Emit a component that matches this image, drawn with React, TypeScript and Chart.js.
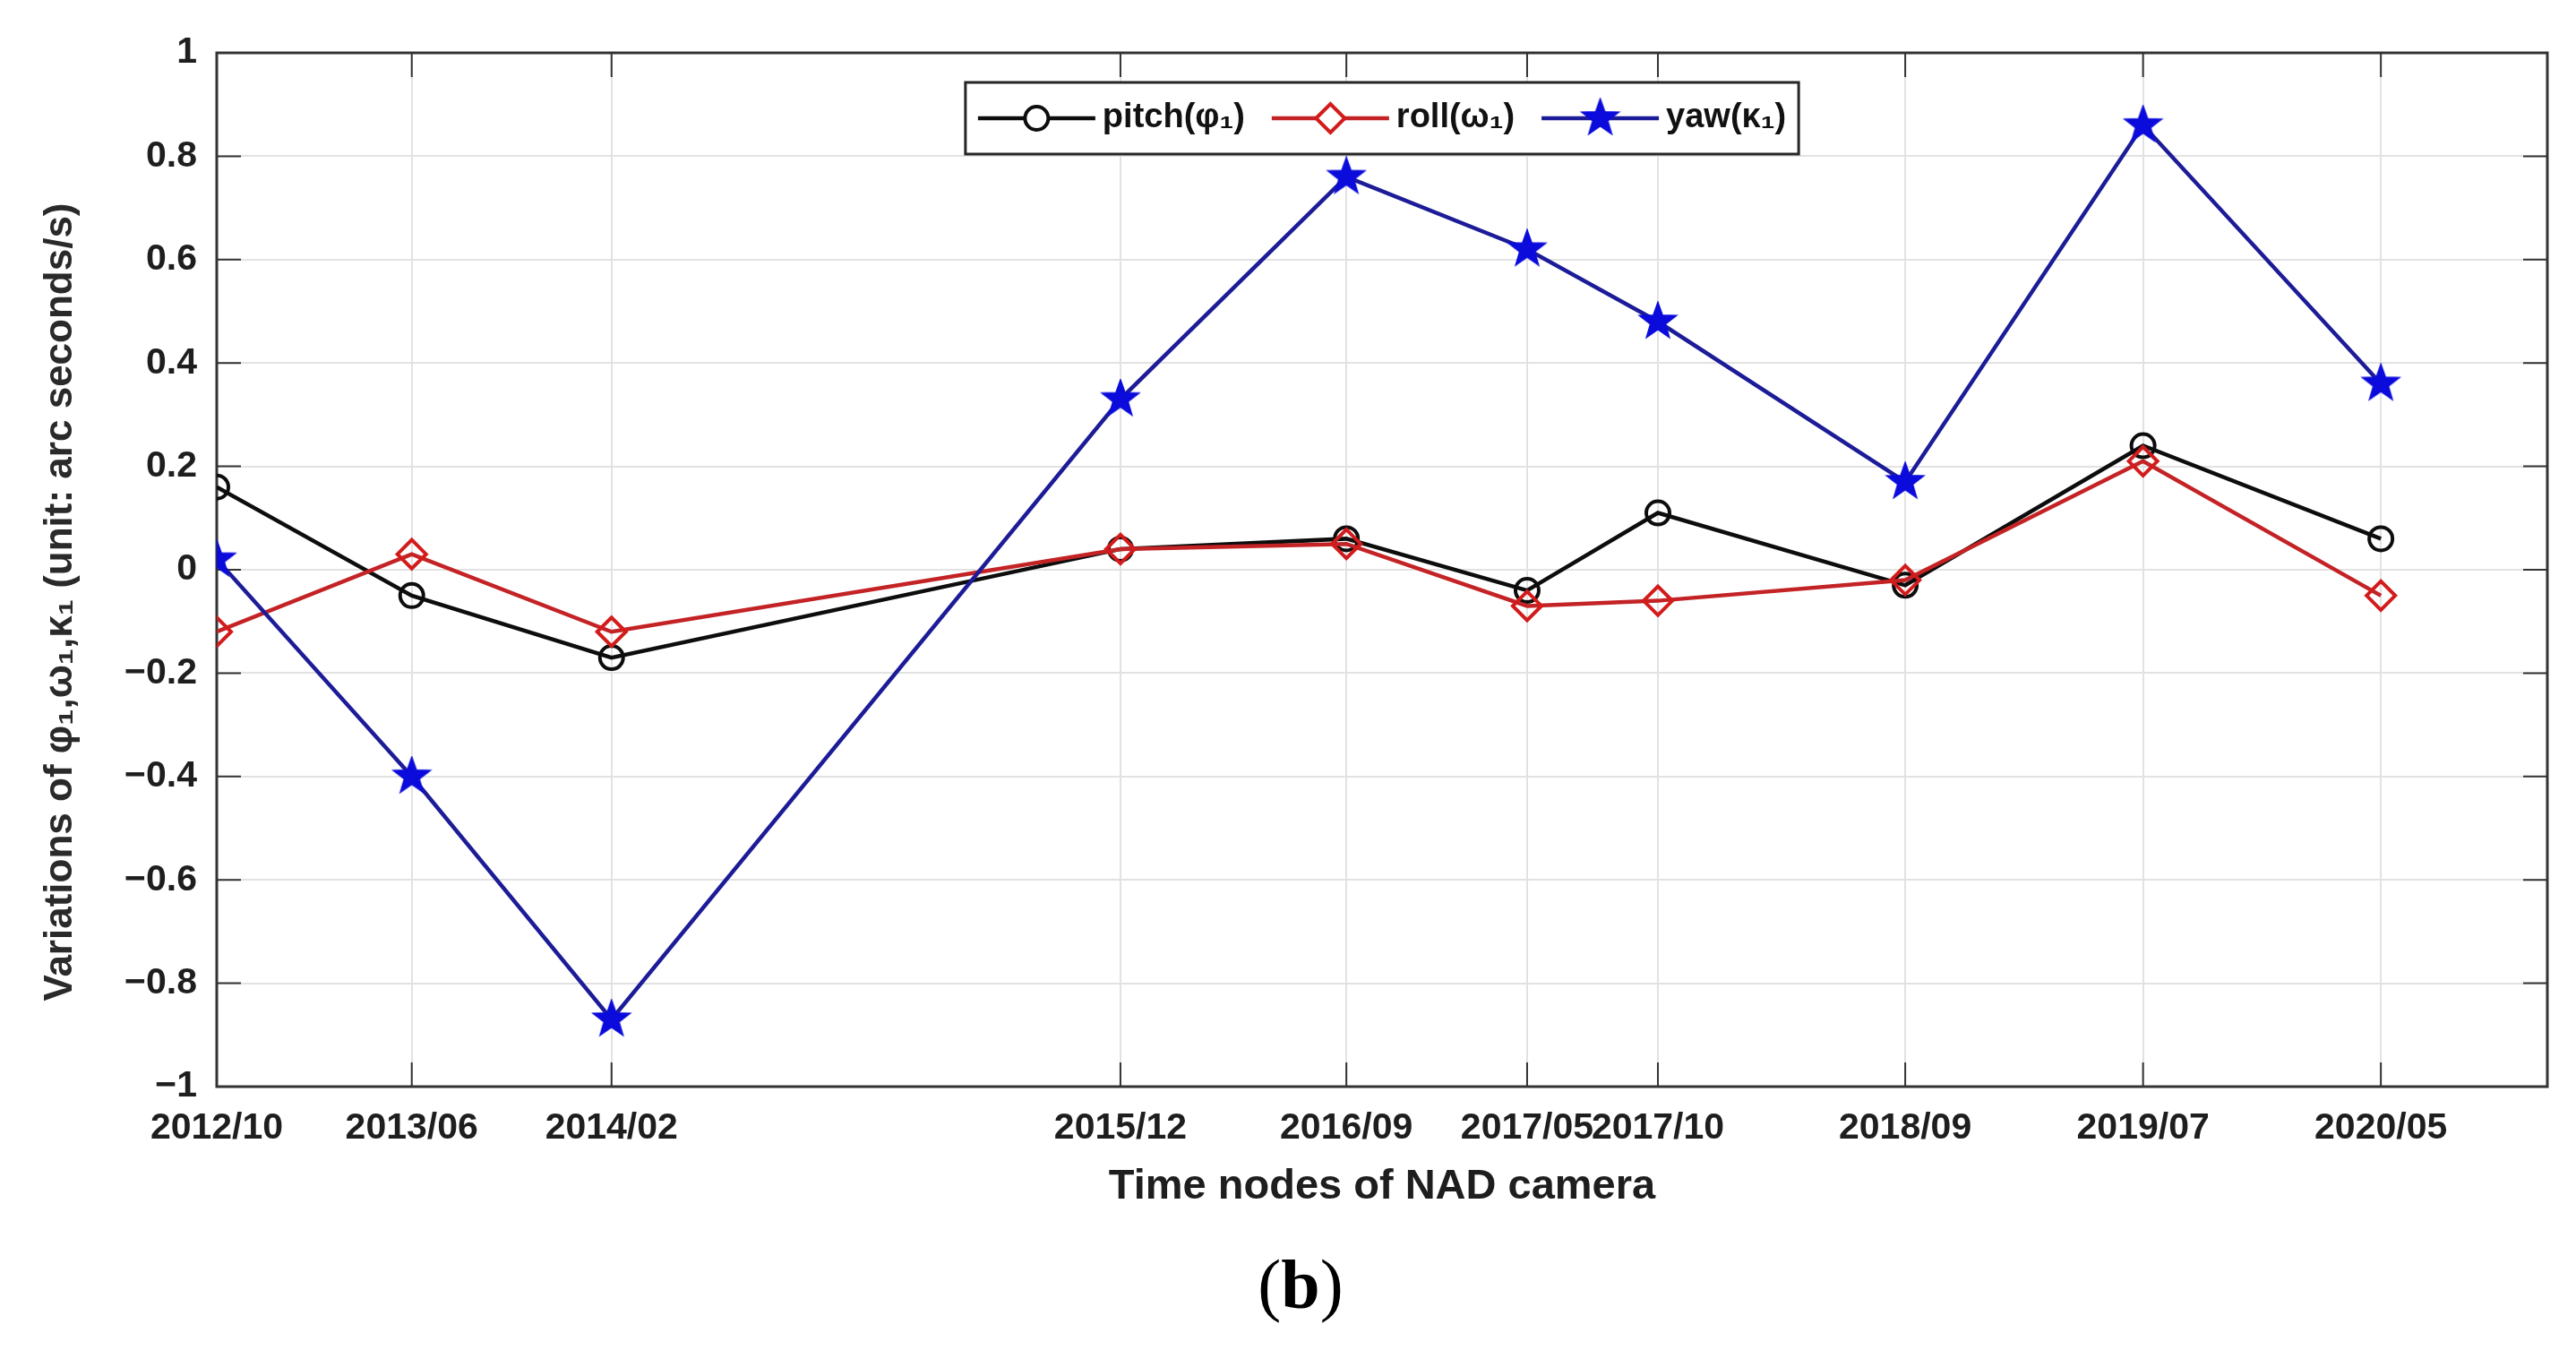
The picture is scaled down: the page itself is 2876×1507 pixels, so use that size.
import React, { useEffect, useRef } from 'react';
import { Chart, registerables } from 'chart.js';

Chart.register(...registerables);

// ---------- data ----------
const dateLabels = ['2012/10', '2013/06', '2014/02', '2015/12', '2016/09', '2017/05', '2017/10', '2018/09', '2019/07', '2020/05'];
// time position of each node, in months after 2012/10
const monthOffsets = [0, 8.2, 16.6, 38, 47.5, 55.1, 60.6, 71, 81, 91];
const xMaxMonths = 98;
const pitchValues = [0.16, -0.05, -0.17, 0.04, 0.06, -0.04, 0.11, -0.03, 0.24, 0.06];
const rollValues = [-0.12, 0.03, -0.12, 0.04, 0.05, -0.07, -0.06, -0.02, 0.21, -0.05];
const yawValues = [0.02, -0.4, -0.87, 0.33, 0.76, 0.62, 0.48, 0.17, 0.86, 0.36];
const yTickValues = [-1, -0.8, -0.6, -0.4, -0.2, 0, 0.2, 0.4, 0.6, 0.8, 1];
const seriesLabels = ['pitch(φ₁)', 'roll(ω₁)', 'yaw(κ₁)'];
const xTitle = 'Time nodes of NAD camera';
const yTitle = 'Variations of φ₁,ω₁,κ₁ (unit: arc seconds/s)';

// ---------- styles ----------
const W = 2876;
const H = 1380;
const FONT = "'Liberation Sans', Arial, Helvetica, sans-serif";
const TEXT = '#1e1e1e';
const GRID = '#e2e2e2';
const FRAME = '#333333';

function makeStar(size: number, outer: number, inner: number, color: string) {
  const c = document.createElement('canvas');
  c.width = size;
  c.height = size;
  const ctx = c.getContext('2d')!;
  ctx.beginPath();
  for (let i = 0; i < 10; i++) {
    const r = i % 2 === 0 ? outer : inner;
    const a = -Math.PI / 2 + (i * Math.PI) / 5;
    const px = size / 2 + r * Math.cos(a);
    const py = size / 2 + r * Math.sin(a);
    if (i === 0) ctx.moveTo(px, py);
    else ctx.lineTo(px, py);
  }
  ctx.closePath();
  ctx.fillStyle = color;
  ctx.fill();
  ctx.lineWidth = 2;
  ctx.strokeStyle = color;
  ctx.stroke();
  return c;
}

function fmtY(v: number) {
  const r = Math.round(v * 10) / 10;
  if (r === 0) return '0';
  const s = String(Math.abs(r));
  return r < 0 ? '\u2212' + s : s;
}

const framePlugin = {
  id: 'matlabFrame',
  beforeDatasetsDraw(chart: any) {
    const { ctx, chartArea } = chart;
    const { left, right, top, bottom } = chartArea;
    const xs = chart.scales.x;
    const ys = chart.scales.y;
    const tl = 27;
    ctx.save();
    ctx.strokeStyle = FRAME;
    ctx.lineWidth = 2;
    ctx.beginPath();
    for (const v of yTickValues) {
      const py = ys.getPixelForValue(v);
      ctx.moveTo(left, py);
      ctx.lineTo(left + tl, py);
      ctx.moveTo(right, py);
      ctx.lineTo(right - tl, py);
    }
    for (const v of monthOffsets) {
      const px = xs.getPixelForValue(v);
      ctx.moveTo(px, bottom);
      ctx.lineTo(px, bottom - tl);
      ctx.moveTo(px, top);
      ctx.lineTo(px, top + tl);
    }
    ctx.stroke();
    ctx.lineWidth = 3;
    ctx.strokeRect(left, top, right - left, bottom - top);
    ctx.restore();
  },
  afterDraw(chart: any) {
    // y-axis title (MATLAB places it slightly below the axis centre)
    const { ctx, chartArea } = chart;
    ctx.save();
    ctx.translate(68, (chartArea.top + chartArea.bottom) / 2 + 36);
    ctx.rotate(-Math.PI / 2);
    ctx.font = `bold 44px ${FONT}`;
    ctx.fillStyle = '#2a2a2a';
    ctx.textAlign = 'center';
    ctx.textBaseline = 'middle';
    ctx.fillText(yTitle, 0, 0);
    ctx.restore();
  },
};

const legendPlugin = {
  id: 'matlabLegend',
  afterDraw(chart: any) {
    const { ctx, chartArea } = chart;
    const fontSize = 38;
    const lineLen = 131;
    const gapText = 8;
    const gapEntry = 30;
    const padX = 14;
    const boxH = 80;
    ctx.save();
    ctx.font = `bold ${fontSize}px ${FONT}`;
    const items = chart.data.datasets.map((ds: any) => ({ ds, w: ctx.measureText(ds.label).width }));
    const total =
      padX * 2 +
      items.reduce((s: number, it: any) => s + lineLen + gapText + it.w, 0) +
      gapEntry * (items.length - 1);
    const cx = (chartArea.left + chartArea.right) / 2;
    const left = cx - total / 2;
    const top = chartArea.top + 33;
    ctx.fillStyle = '#ffffff';
    ctx.fillRect(left, top, total, boxH);
    ctx.strokeStyle = '#262626';
    ctx.lineWidth = 3;
    ctx.strokeRect(left, top, total, boxH);
    const cy = top + boxH / 2;
    let x = left + padX;
    for (const it of items) {
      const ds = it.ds;
      ctx.strokeStyle = ds.borderColor;
      ctx.lineWidth = ds.borderWidth;
      ctx.beginPath();
      ctx.moveTo(x, cy);
      ctx.lineTo(x + lineLen, cy);
      ctx.stroke();
      const mx = x + lineLen / 2;
      const st = ds.pointStyle;
      if (typeof st === 'object' && st) {
        ctx.drawImage(st, mx - st.width / 2, cy - st.height / 2);
      } else {
        ctx.fillStyle = '#ffffff';
        ctx.strokeStyle = ds.pointBorderColor;
        ctx.lineWidth = ds.pointBorderWidth;
        const r = ds.pointRadius;
        ctx.beginPath();
        if (st === 'circle') {
          ctx.arc(mx, cy, r, 0, Math.PI * 2);
        } else {
          ctx.moveTo(mx - r, cy);
          ctx.lineTo(mx, cy - r);
          ctx.lineTo(mx + r, cy);
          ctx.lineTo(mx, cy + r);
          ctx.closePath();
        }
        ctx.fill();
        ctx.stroke();
      }
      ctx.fillStyle = '#111111';
      ctx.textAlign = 'left';
      ctx.textBaseline = 'middle';
      ctx.fillText(ds.label, x + lineLen + gapText, cy);
      x += lineLen + gapText + it.w + gapEntry;
    }
    ctx.restore();
  },
};

export default function App() {
  const ref = useRef<HTMLCanvasElement>(null);

  useEffect(() => {
    if (!ref.current) return;
    const star = makeStar(46, 21, 8.5, '#0b0bdc');
    const pts = (vals: number[]) => vals.map((v, i) => ({ x: monthOffsets[i], y: v }));
    const chart = new Chart(ref.current, {
      type: 'line',
      data: {
        datasets: [
          {
            label: seriesLabels[0],
            data: pts(pitchValues),
            borderColor: '#0d0d0d',
            borderWidth: 4.5,
            pointStyle: 'circle',
            pointRadius: 13,
            pointBorderWidth: 4,
            pointBorderColor: '#0d0d0d',
            pointBackgroundColor: 'rgba(0,0,0,0)',
            order: 2,
          },
          {
            label: seriesLabels[1],
            data: pts(rollValues),
            borderColor: '#c42326',
            borderWidth: 4.5,
            pointStyle: 'rectRot',
            pointRadius: 16,
            pointBorderWidth: 4,
            pointBorderColor: '#d31b1b',
            pointBackgroundColor: 'rgba(0,0,0,0)',
            order: 1,
          },
          {
            label: seriesLabels[2],
            data: pts(yawValues),
            borderColor: '#1c1c98',
            borderWidth: 4.5,
            pointStyle: star as any,
            pointRadius: 18,
            pointBorderWidth: 0,
            pointBorderColor: '#0b0bdc',
            pointBackgroundColor: '#0b0bdc',
            order: 0,
          },
        ] as any,
      },
      options: {
        animation: false,
        responsive: false,
        maintainAspectRatio: false,
        layout: { padding: { top: 59, right: 32, left: 0, bottom: 0 } },
        plugins: {
          legend: { display: false },
          tooltip: { enabled: false },
        },
        elements: { line: { tension: 0 } },
        scales: {
          x: {
            type: 'linear',
            min: 0,
            max: xMaxMonths,
            afterBuildTicks: (s: any) => {
              s.ticks = monthOffsets.map((v) => ({ value: v }));
            },
            afterFit: (s: any) => {
              s.height = H - 1213;
            },
            ticks: {
              autoSkip: false,
              maxRotation: 0,
              minRotation: 0,
              padding: 22,
              color: TEXT,
              font: { family: FONT, size: 41, weight: 'bold' },
              callback: (v: any) => {
                const i = monthOffsets.indexOf(Number(v));
                return i >= 0 ? dateLabels[i] : '';
              },
            },
            grid: { color: GRID, lineWidth: 2, drawTicks: false },
            border: { display: false },
            title: {
              display: true,
              text: xTitle,
              color: TEXT,
              font: { family: FONT, size: 47, weight: 'bold' },
              padding: { top: 0, bottom: 27 },
            },
          },
          y: {
            type: 'linear',
            min: -1,
            max: 1,
            afterBuildTicks: (s: any) => {
              s.ticks = yTickValues.map((v) => ({ value: v }));
            },
            afterFit: (s: any) => {
              s.width = 242;
            },
            ticks: {
              padding: 22,
              color: TEXT,
              font: { family: FONT, size: 41, weight: 'bold' },
              callback: (v: any) => fmtY(Number(v)),
            },
            grid: { color: GRID, lineWidth: 2, drawTicks: false },
            border: { display: false },
            title: { display: false },
          },
        },
      } as any,
      plugins: [framePlugin, legendPlugin],
    });
    return () => chart.destroy();
  }, []);

  return (
    <div style={{ position: 'absolute', left: 0, top: 0, width: W, height: 1507, background: '#ffffff' }}>
      <canvas ref={ref} width={W} height={H} style={{ display: 'block', width: W, height: H }} />
      <div
        style={{
          position: 'absolute',
          left: 1452 - 200,
          top: 1395,
          width: 400,
          textAlign: 'center',
          fontFamily: "'Liberation Serif', 'DejaVu Serif', serif",
          fontSize: 78,
          lineHeight: '78px',
          color: '#000000',
        }}
      >
        (<b>b</b>)
      </div>
    </div>
  );
}
